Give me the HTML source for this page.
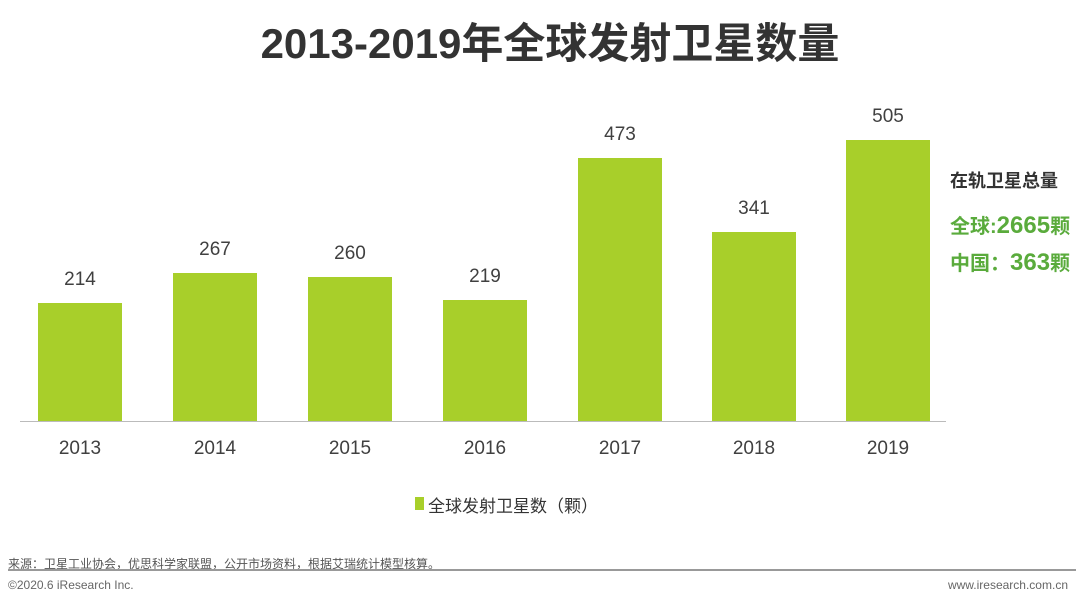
<!DOCTYPE html><html><head><meta charset="utf-8"><style>
body{margin:0;width:1080px;height:605px;background:#fff;position:relative;overflow:hidden;font-family:"Liberation Sans","Noto Sans CJK SC",sans-serif}
div{position:absolute}
.b{background:#a8cf2a;width:84px}
.v{width:84px;text-align:center;font-size:19px;color:#404040}
.x{width:84px;text-align:center;font-size:19px;color:#404040;top:438px}
</style></head><body>
<div style="left:0;width:1100px;top:10px;text-align:center;font-size:42px;font-weight:bold;color:#333">2013-2019年全球发射卫星数量</div>
<div style="left:20px;top:421px;width:926px;height:1px;background:#bbb"></div>
<div class="b" style="left:38px;top:303px;height:118px"></div><div class="v" style="left:38px;top:269px">214</div><div class="x" style="left:38px">2013</div>
<div class="b" style="left:173px;top:273px;height:148px"></div><div class="v" style="left:173px;top:239px">267</div><div class="x" style="left:173px">2014</div>
<div class="b" style="left:308px;top:277px;height:144px"></div><div class="v" style="left:308px;top:243px">260</div><div class="x" style="left:308px">2015</div>
<div class="b" style="left:443px;top:300px;height:121px"></div><div class="v" style="left:443px;top:266px">219</div><div class="x" style="left:443px">2016</div>
<div class="b" style="left:578px;top:158px;height:263px"></div><div class="v" style="left:578px;top:124px">473</div><div class="x" style="left:578px">2017</div>
<div class="b" style="left:712px;top:232px;height:189px"></div><div class="v" style="left:712px;top:198px">341</div><div class="x" style="left:712px">2018</div>
<div class="b" style="left:846px;top:140px;height:281px"></div><div class="v" style="left:846px;top:106px">505</div><div class="x" style="left:846px">2019</div>
<div style="left:950px;top:167px;font-size:18px;font-weight:bold;color:#333">在轨卫星总量</div>
<div style="left:950px;top:210px;font-size:20px;font-weight:bold;color:#5aab3c">全球:<span style="font-size:24px">2665</span>颗</div>
<div style="left:950px;top:247px;font-size:20px;font-weight:bold;color:#5aab3c">中国：<span style="font-size:24px">363</span>颗</div>
<div style="left:415px;top:497px;width:9px;height:13px;background:#a8cf2a"></div>
<div style="left:428px;top:492px;font-size:17px;color:#333">全球发射卫星数（颗）</div>
<div style="left:8px;top:555px;font-size:12px;color:#555">来源：卫星工业协会，优思科学家联盟，公开市场资料，根据艾瑞统计模型核算。</div>
<div style="left:8px;top:569px;width:1068px;height:2px;background:#999"></div>
<div style="left:8px;top:578px;font-size:12px;color:#666">©2020.6 iResearch Inc.</div>
<div style="right:12px;top:578px;font-size:12px;color:#666">www.iresearch.com.cn</div>
</body></html>
